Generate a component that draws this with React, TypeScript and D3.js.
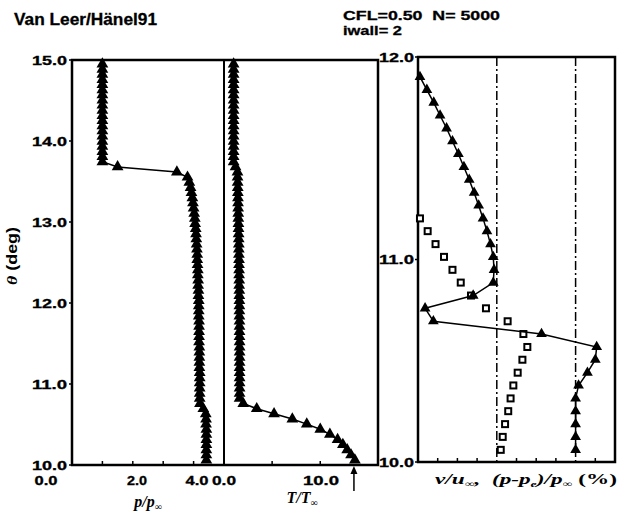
import React from 'react';
import * as d3 from 'd3';

// grid angles (deg) of the computed solution, wall at 10.0
const THETA = [
  10.060, 10.124, 10.187, 10.251, 10.314, 10.378, 10.441, 10.505, 10.568, 10.632,
  10.695, 10.759, 10.822, 10.886, 10.949, 11.013, 11.076, 11.140, 11.203, 11.267,
  11.330, 11.394, 11.457, 11.521, 11.584, 11.648, 11.711, 11.775, 11.838, 11.902,
  11.965, 12.029, 12.092, 12.156, 12.219, 12.283, 12.346, 12.410, 12.473, 12.537,
  12.600, 12.664, 12.727, 12.791, 12.854, 12.918, 12.981, 13.045, 13.108, 13.172,
  13.235, 13.299, 13.362, 13.426, 13.489, 13.553, 13.616, 13.680, 13.743, 13.807,
  13.870, 13.934, 13.997, 14.061, 14.124, 14.188, 14.251, 14.315, 14.378, 14.442,
  14.505, 14.569, 14.632, 14.696, 14.759, 14.823, 14.886, 14.950,
];

// p / p_inf
const P_RATIO = [
  4.42, 4.42, 4.42, 4.42, 4.42, 4.42, 4.42, 4.41, 4.41, 4.40,
  4.32, 4.21, 4.20, 4.20, 4.20, 4.20, 4.20, 4.20, 4.19, 4.19,
  4.19, 4.19, 4.19, 4.18, 4.18, 4.18, 4.18, 4.18, 4.17, 4.17,
  4.17, 4.17, 4.16, 4.16, 4.15, 4.15, 4.14, 4.14, 4.13, 4.12,
  4.12, 4.11, 4.10, 4.09, 4.08, 4.07, 4.05, 4.04, 4.02, 4.00,
  3.98, 3.96, 3.93, 3.90, 3.86, 3.80, 3.45, 1.50, 1.00, 1.00,
  1.00, 1.00, 1.00, 1.00, 1.00, 1.00, 1.00, 1.00, 1.00, 1.00,
  1.00, 1.00, 1.00, 1.00, 1.00, 1.00, 1.00, 1.00,
];

// T / T_inf
const T_RATIO = [
  13.6, 13.2, 12.8, 12.35, 11.8, 11.0, 10.0, 8.6, 7.1, 5.2,
  3.4, 2.0, 1.62, 1.62, 1.62, 1.62, 1.62, 1.62, 1.62, 1.62,
  1.62, 1.62, 1.62, 1.62, 1.61, 1.61, 1.61, 1.61, 1.60, 1.60,
  1.60, 1.60, 1.59, 1.59, 1.58, 1.58, 1.57, 1.57, 1.56, 1.56,
  1.55, 1.54, 1.54, 1.53, 1.52, 1.51, 1.50, 1.49, 1.48, 1.47,
  1.46, 1.45, 1.44, 1.43, 1.42, 1.41, 1.40, 1.20, 1.00, 1.00,
  1.00, 1.00, 1.00, 1.00, 1.00, 1.00, 1.00, 1.00, 1.00, 1.00,
  1.00, 1.00, 1.00, 1.00, 1.00, 1.00, 1.00, 1.00,
];

// right panel (axis units, zero lines at 4 and 8): triangles series
const TRI_SERIES = [
  8.0, 8.0, 8.0, 8.0, 8.0, 8.15, 8.6, 9.0, 9.07, 6.27,
  0.78, 0.36, 2.8, 3.82, 3.86, 3.82, 3.68, 3.5, 3.3, 3.08,
  2.85, 2.6, 2.33, 2.05, 1.75, 1.45, 1.12, 0.8, 0.45, 0.1,
];
// right panel: open squares series
const SQ_SERIES = [
  4.2, 4.3, 4.42, 4.58, 4.7, 4.84, 5.06, 5.3, 5.55, 5.35,
  4.55, 3.45, 2.69, 2.17, 1.75, 1.32, 0.89, 0.49, 0.1,
];

const Y_TICKS_LEFT = [10, 11, 12, 13, 14, 15];
const Y_TICKS_RIGHT = [10, 11, 12];
const P_MINOR = [1, 2, 3, 4];
const T_MINOR = [5, 10];
const R_MINOR = [1, 2, 3, 5, 6, 7, 9];
const ZERO_LINES = [4, 8];
const WALL_T = 13.5;

const SANS = '"Liberation Sans", Arial, sans-serif';
const SERIF = '"Liberation Serif", "Times New Roman", serif';

type TxtProps = {
  x: number; y: number; w: number; size: number; children: React.ReactNode;
  family?: string; italic?: boolean; anchor?: 'start' | 'middle' | 'end';
};
function Txt({ x, y, w, size, children, family = SANS, italic = false, anchor = 'start' }: TxtProps) {
  const x0 = anchor === 'start' ? x : anchor === 'middle' ? x - w / 2 : x - w;
  return (
    <text x={x0} y={y} fontSize={size} fontFamily={family} fontWeight="bold"
      fontStyle={italic ? 'italic' : 'normal'} textLength={w} lengthAdjust="spacingAndGlyphs"
      style={{ whiteSpace: 'pre' }} fill="#000" stroke="#000" strokeWidth={0.3}>
      {children}
    </text>
  );
}

export default function App() {
  const yL = d3.scaleLinear().domain([10, 15]).range([465, 60]);
  const xP = d3.scaleLinear().domain([0, 5]).range([72, 224]);
  const xT = d3.scaleLinear().domain([0, 16]).range([224, 378]);
  const yR = d3.scaleLinear().domain([10, 12]).range([462, 57]);
  const xR = d3.scaleLinear().domain([0, 10]).range([418, 615]);

  const tri = d3.symbol(d3.symbolTriangle, 60)() as string;
  const triR = d3.symbol(d3.symbolTriangle, 50)() as string;

  const pPts = THETA.map((t, i) => [xP(P_RATIO[i]), yL(t)] as [number, number]);
  const tPts = THETA.map((t, i) => [xT(T_RATIO[i]), yL(t)] as [number, number]);
  const rTri = TRI_SERIES.map((v, i) => [xR(v), yR(THETA[i])] as [number, number]);
  const rSq = SQ_SERIES.map((v, i) => [xR(v), yR(THETA[i])] as [number, number]);
  const line = d3.line();

  return (
    <svg width={627} height={514} style={{ position: 'absolute', left: 0, top: 0, background: '#fff' }}>
      <rect x={0} y={0} width={627} height={514} fill="#fff" />
      {/* titles */}
      <Txt x={14} y={25} w={143} size={16}>Van Leer/Hänel91</Txt>
      <Txt x={343} y={20} w={157} size={13}>CFL=0.50  N= 5000</Txt>
      <Txt x={343} y={35} w={59} size={13}>iwall= 2</Txt>

      {/* left frame */}
      <rect x={xP(0)} y={yL(15)} width={xT(16) - xP(0)} height={yL(10) - yL(15)}
        fill="none" stroke="#000" strokeWidth={2.5} />
      <line x1={xT(0)} x2={xT(0)} y1={yL(15)} y2={yL(10)} stroke="#000" strokeWidth={2} />

      {/* left y ticks & labels */}
      {Y_TICKS_LEFT.map(t => (
        <g key={t}>
          <line x1={xP(0) - 3} x2={xP(0)} y1={yL(t)} y2={yL(t)} stroke="#000" strokeWidth={1.5} />
          <Txt x={67} y={yL(t) + 4.5} w={35} size={12} anchor="end">{d3.format('.1f')(t)}</Txt>
        </g>
      ))}
      {P_MINOR.map(v => (
        <line key={'pm' + v} x1={xP(v)} x2={xP(v)} y1={yL(10)} y2={yL(10) - 4} stroke="#000" strokeWidth={1.5} />
      ))}
      {T_MINOR.map(v => (
        <line key={'tm' + v} x1={xT(v)} x2={xT(v)} y1={yL(10)} y2={yL(10) - 4} stroke="#000" strokeWidth={1.5} />
      ))}

      {/* bottom tick labels */}
      <Txt x={46} y={485} w={23} size={12} anchor="middle">0.0</Txt>
      <Txt x={137} y={485} w={20} size={12} anchor="middle">2.0</Txt>
      <Txt x={197} y={485} w={23} size={12} anchor="middle">4.0</Txt>
      <Txt x={224} y={485} w={24} size={12} anchor="middle">0.0</Txt>
      <Txt x={321} y={485} w={36} size={12} anchor="middle">10.0</Txt>

      {/* axis titles */}
      <g transform="translate(17,256) rotate(-90)">
        <text x={-29} y={0} fontSize={15} fontWeight="bold" fontFamily={SANS}
          textLength={58} lengthAdjust="spacingAndGlyphs" style={{ whiteSpace: 'pre' }}>
          <tspan fontStyle="italic" fontFamily={SERIF}>θ</tspan> (deg)
        </text>
      </g>
      <text x={148} y={507} textAnchor="middle" fontSize={16} fontWeight="bold" fontStyle="italic" fontFamily={SERIF}>
        p/p<tspan fontSize={10} dy={3}>∞</tspan>
      </text>
      <text x={302} y={503} textAnchor="middle" fontSize={16} fontWeight="bold" fontStyle="italic" fontFamily={SERIF}>
        T/T<tspan fontSize={10} dy={3}>∞</tspan>
      </text>
      <text x={435} y={484} fontSize={15} fontWeight="bold" fontStyle="italic" fontFamily={SERIF}
        textLength={182} lengthAdjust="spacingAndGlyphs" style={{ whiteSpace: 'pre' }}>
        v/u<tspan fontSize={9} dy={3}>∞</tspan><tspan dy={-3}>,  (p-p</tspan><tspan fontSize={9} dy={3}>e</tspan><tspan dy={-3}>)/p</tspan><tspan fontSize={9} dy={3}>∞</tspan><tspan dy={-3} fontStyle="normal"> (%)</tspan>
      </text>

      {/* wall temperature arrow */}
      <line x1={xT(WALL_T)} x2={xT(WALL_T)} y1={491} y2={470} stroke="#000" strokeWidth={1.5} />
      <path d={`M${xT(WALL_T)},${yL(10) + 1} l-3.5,8 l7,0 Z`} fill="#000" />

      {/* p chain */}
      <path d={line(pPts) as string} fill="none" stroke="#000" strokeWidth={1.5} />
      {pPts.map(([x, y], i) => <path key={'p' + i} d={tri} transform={`translate(${x},${y})`} fill="#000" />)}
      {/* T chain */}
      <path d={line(tPts) as string} fill="none" stroke="#000" strokeWidth={1.5} />
      {tPts.map(([x, y], i) => <path key={'t' + i} d={tri} transform={`translate(${x},${y})`} fill="#000" />)}

      {/* right panel */}
      <rect x={xR(0)} y={yR(12)} width={xR(10) - xR(0)} height={yR(10) - yR(12)}
        fill="none" stroke="#000" strokeWidth={2.5} />
      {ZERO_LINES.map(v => (
        <line key={'z' + v} x1={xR(v)} x2={xR(v)} y1={yR(12)} y2={yR(10)} stroke="#000"
          strokeWidth={1.5} strokeDasharray="9,3,2,3" />
      ))}
      {R_MINOR.map(v => (
        <line key={'rm' + v} x1={xR(v)} x2={xR(v)} y1={yR(10)} y2={yR(10) - 4} stroke="#000" strokeWidth={1.5} />
      ))}
      {Y_TICKS_RIGHT.map(t => (
        <g key={'ry' + t}>
          <line x1={xR(0) - 3} x2={xR(0)} y1={yR(t)} y2={yR(t)} stroke="#000" strokeWidth={1.5} />
          <Txt x={414} y={yR(t) + 4.5} w={35} size={12} anchor="end">{d3.format('.1f')(t)}</Txt>
        </g>
      ))}
      {rSq.map(([x, y], i) => (
        <rect key={'s' + i} x={x - 3} y={y - 3} width={6} height={6} fill="#fff" stroke="#000" strokeWidth={2} />
      ))}
      <path d={line(rTri) as string} fill="none" stroke="#000" strokeWidth={1.5} />
      {rTri.map(([x, y], i) => <path key={'r' + i} d={triR} transform={`translate(${x},${y})`} fill="#000" />)}
    </svg>
  );
}
